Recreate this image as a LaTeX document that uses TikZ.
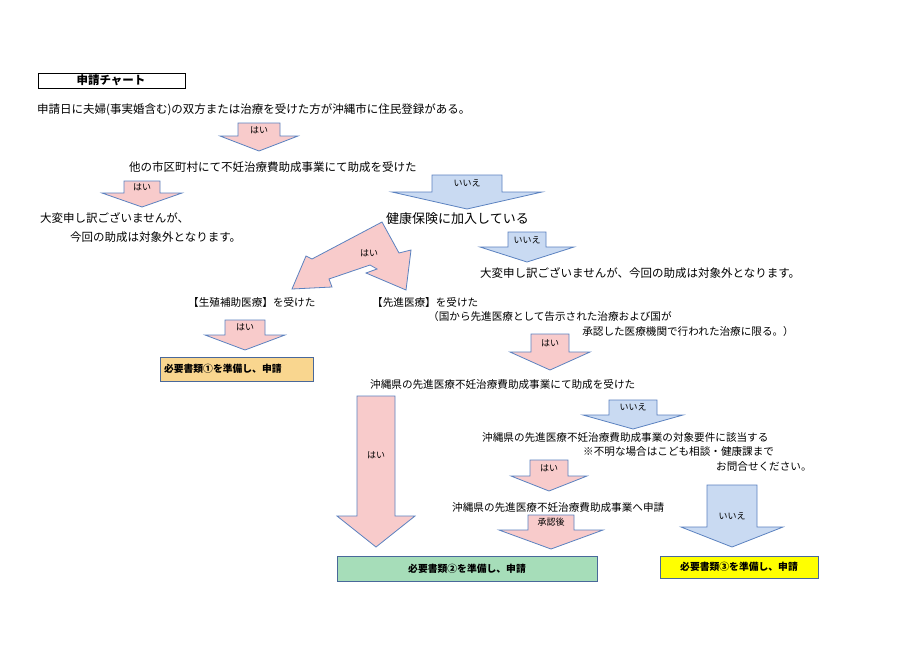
\documentclass[tikz,border=0pt]{standalone}
\usepackage{fontspec}
\setmainfont{Noto Sans CJK JP}
\definecolor{pinkf}{HTML}{F8CBCB}
\definecolor{bluef}{HTML}{C9DAF2}
\definecolor{edgeb}{HTML}{5B82C0}
\definecolor{orangef}{HTML}{F9D68F}
\definecolor{greenf}{HTML}{A6DDB9}
\definecolor{yellowf}{HTML}{FFFF00}
\newcommand\blockarr[7][]{%
  \draw[arr,#1] ({#2-#3},#5) -- ({#2+#3},#5) -- ({#2+#3},#6) -- ({#2+#4},#6) -- (#2,#7) -- ({#2-#4},#6) -- ({#2-#3},#6) -- cycle;}
\begin{document}
\begin{tikzpicture}[x=1pt,y=-1pt,
  arr/.style={draw=edgeb,line width=0.8pt,line join=miter},
  pinkarr/.style={fill=pinkf},
  bluearr/.style={fill=bluef},
  txt/.style={anchor=west,inner sep=0pt,font=\fontsize{11.5}{13}\selectfont},
  txts/.style={anchor=west,inner sep=0pt,font=\fontsize{10.6}{12}\selectfont},
  lbl/.style={inner sep=0pt,font=\fontsize{9}{10}\selectfont},
  docbox/.style={draw=edgeb!80!black,line width=0.8pt,inner sep=0pt,font=\fontsize{9.8}{11}\bfseries\selectfont}]
\useasboundingbox (0,0) rectangle (912,645);
\fill[white] (0,0) rectangle (912,645);
% title
\draw[black,line width=1pt] (38,73) rectangle (185,88);
\node[inner sep=0pt,font=\fontsize{11.5}{13}\bfseries\selectfont] (title) at (111,80.5) {申請チャート};
% line 1
\node[txt] (q1) at (37,110) {申請日に夫婦(事実婚含む)の双方または治療を受けた方が沖縄市に住民登録がある。};
\blockarr[pinkarr]{259}{21}{39}{123}{136}{151}
\node[lbl] (a1) at (259,130) {はい};
\node[txt] (q2) at (129,167) {他の市区町村にて不妊治療費助成事業にて助成を受けた};
% left はい
\blockarr[pinkarr]{142}{18}{40}{181}{193}{207}
\node[lbl] (a2) at (142,187) {はい};
\node[txt] (n1) at (40,218) {大変申し訳ございませんが、};
\node[txt] (n1b) at (70,237) {今回の助成は対象外となります。};
% いいえ to 健康保険
\blockarr[bluearr]{467}{35}{75}{175}{192}{209}
\node[lbl] (a3) at (467,183) {いいえ};
\node[anchor=west,inner sep=0pt,font=\fontsize{13}{15}\selectfont] (q3) at (386,219) {健康保険に加入している};
% いいえ from 健康保険
\blockarr[bluearr]{527}{19}{47}{232}{247}{262}
\node[lbl] (a4) at (527,240) {いいえ};
\node[txt] (n2) at (480,273) {大変申し訳ございませんが、今回の助成は対象外となります。};
% double arrow
\draw[arr,pinkarr] (382,222) -- (399,253) -- (411,250) -- (406,290) -- (366,273) -- (377,269) -- (370,265)
  -- (329,279) -- (332,287) -- (292,289) -- (306,256) -- (312,259) -- cycle;
\node[lbl] (a5) at (369,253) {はい};
\node[txts] (q4) at (188,302) {【生殖補助医療】を受けた};
\node[txts] (q5) at (372,302) {【先進医療】を受けた};
\node[txts] (q5b) at (428,316) {（国から先進医療として告示された治療および国が};
\node[txts,anchor=east] (q5c) at (794,331) {承認した医療機関で行われた治療に限る。）};
% はい -> doc1
\blockarr[pinkarr]{245}{20}{40}{320}{335}{350}
\node[lbl] (a6) at (245,327) {はい};
\node[docbox,fill=orangef,minimum width=153pt,minimum height=24pt,text width=145pt,align=left] (d1) at (236.5,369) {必要書類①を準備し、申請};
% はい -> 沖縄県
\blockarr[pinkarr]{550}{19}{40}{334}{352}{370}
\node[lbl] (a7) at (550,343) {はい};
\node[txts] (q6) at (370,384) {沖縄県の先進医療不妊治療費助成事業にて助成を受けた};
% big はい
\blockarr[pinkarr]{376}{19}{39}{396}{516}{547}
\node[lbl] (a8) at (376,455) {はい};
% いいえ
\blockarr[bluearr]{633}{24}{50}{400}{415}{429}
\node[lbl] (a9) at (633,407) {いいえ};
\node[txts] (q7) at (482,437) {沖縄県の先進医療不妊治療費助成事業の対象要件に該当する};
\node[txts] (q7b) at (583,452) {※不明な場合はこども相談・健康課まで};
\node[txts] (q7c) at (716,466) {お問合せください。};
% はい
\blockarr[pinkarr]{549}{19}{38}{460}{476}{491}
\node[lbl] (a10) at (549,468) {はい};
\node[txts] (q8) at (452,507) {沖縄県の先進医療不妊治療費助成事業へ申請};
% 承認後
\blockarr[pinkarr]{551}{23}{52}{515}{530}{549}
\node[lbl] (a11) at (551,522) {承認後};
% いいえ right
\blockarr[bluearr]{732}{25}{51}{485}{527}{547}
\node[lbl] (a12) at (732,516) {いいえ};
% boxes
\node[docbox,fill=greenf,minimum width=260pt,minimum height=25pt] (d2) at (467,568.5) {必要書類②を準備し、申請};
\node[docbox,fill=yellowf,minimum width=158pt,minimum height=22pt] (d3) at (739,567) {必要書類③を準備し、申請};
\end{tikzpicture}
\end{document}
